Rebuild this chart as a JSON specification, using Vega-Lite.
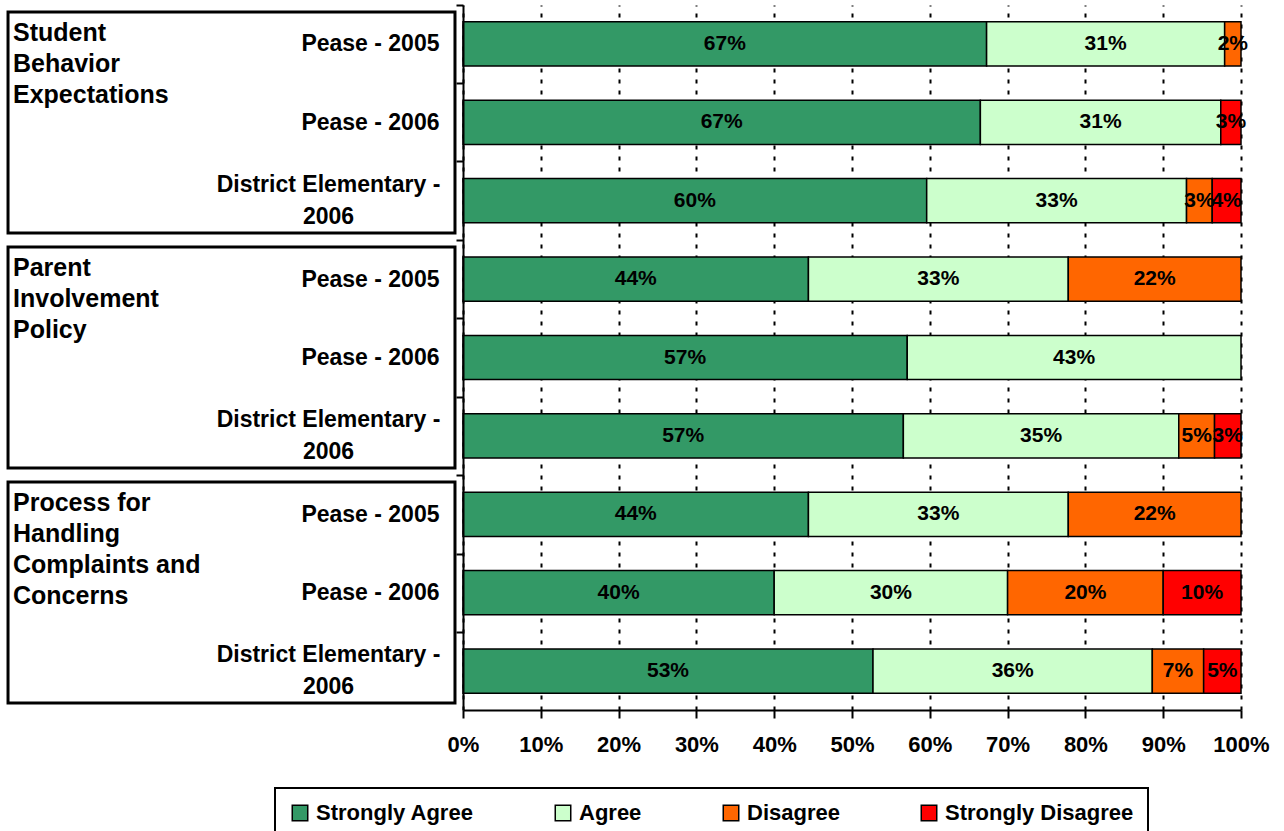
{
  "$schema": "https://vega.github.io/schema/vega-lite/v6.json",
  "width": 778,
  "height": 705,
  "autosize": {"type": "none"},
  "padding": {"left": 463, "top": 5, "right": 43, "bottom": 121},
  "background": "white",
  "config": {
    "font": "Liberation Sans",
    "view": {"stroke": null},
    "axis": {
      "domainColor": "black",
      "domainWidth": 2,
      "tickColor": "black",
      "tickWidth": 2,
      "labelColor": "black",
      "labelFontWeight": "bold",
      "labelFont": "Liberation Sans"
    },
    "legend": {
      "orient": "none",
      "legendX": -188,
      "legendY": 783,
      "direction": "horizontal",
      "padding": 14,
      "strokeColor": "black",
      "strokeWidth": 2,
      "columnPadding": 78,
      "symbolType": "square",
      "symbolSize": 240,
      "symbolStrokeColor": "black",
      "symbolStrokeWidth": 1.5,
      "labelFont": "Liberation Sans",
      "labelFontSize": 22,
      "labelFontWeight": "bold",
      "labelColor": "black",
      "labelOffset": 5,
      "labelLimit": 400
    }
  },
  "layer": [
    {
      "data": {
        "values": [
          {"group": "Student\nBehavior\nExpectations"},
          {"group": "Parent\nInvolvement\nPolicy"},
          {"group": "Process for\nHandling\nComplaints and\nConcerns"}
        ]
      },
      "layer": [
        {
          "mark": {"type": "rect", "fill": "white", "stroke": "black", "strokeWidth": 3},
          "encoding": {
            "y": {"field": "group", "type": "nominal", "sort": null, "scale": {"type": "band", "paddingInner": 0.06, "paddingOuter": 0.03}, "axis": null},
            "x": {"datum": -0.5848, "type": "quantitative", "scale": {"domain": [0, 1]}},
            "x2": {"datum": -0.0103}
          }
        },
        {
          "mark": {"type": "text", "align": "left", "baseline": "top", "lineBreak": "\n", "lineHeight": 31, "fontSize": 25, "fontWeight": "bold", "color": "black", "dy": 9},
          "encoding": {
            "y": {"field": "group", "type": "nominal", "sort": null, "bandPosition": 0, "scale": {"type": "band", "paddingInner": 0.06, "paddingOuter": 0.03}, "axis": null},
            "x": {"datum": -0.5784, "type": "quantitative", "scale": {"domain": [0, 1]}},
            "text": {"field": "group"}
          }
        }
      ]
    },
    {
      "data": {
        "values": [
          {"row": "1|Pease - 2005", "cat": "Strongly Agree", "v": 0.673},
          {"row": "1|Pease - 2005", "cat": "Agree", "v": 0.306},
          {"row": "1|Pease - 2005", "cat": "Disagree", "v": 0.021},
          {"row": "1|Pease - 2006", "cat": "Strongly Agree", "v": 0.665},
          {"row": "1|Pease - 2006", "cat": "Agree", "v": 0.309},
          {"row": "1|Pease - 2006", "cat": "Strongly Disagree", "v": 0.026},
          {"row": "1|District Elementary - 2006", "cat": "Strongly Agree", "v": 0.596},
          {"row": "1|District Elementary - 2006", "cat": "Agree", "v": 0.334},
          {"row": "1|District Elementary - 2006", "cat": "Disagree", "v": 0.033},
          {"row": "1|District Elementary - 2006", "cat": "Strongly Disagree", "v": 0.037},
          {"row": "2|Pease - 2005", "cat": "Strongly Agree", "v": 0.444},
          {"row": "2|Pease - 2005", "cat": "Agree", "v": 0.334},
          {"row": "2|Pease - 2005", "cat": "Disagree", "v": 0.222},
          {"row": "2|Pease - 2006", "cat": "Strongly Agree", "v": 0.571},
          {"row": "2|Pease - 2006", "cat": "Agree", "v": 0.429},
          {"row": "2|District Elementary - 2006", "cat": "Strongly Agree", "v": 0.566},
          {"row": "2|District Elementary - 2006", "cat": "Agree", "v": 0.354},
          {"row": "2|District Elementary - 2006", "cat": "Disagree", "v": 0.046},
          {"row": "2|District Elementary - 2006", "cat": "Strongly Disagree", "v": 0.034},
          {"row": "3|Pease - 2005", "cat": "Strongly Agree", "v": 0.444},
          {"row": "3|Pease - 2005", "cat": "Agree", "v": 0.334},
          {"row": "3|Pease - 2005", "cat": "Disagree", "v": 0.222},
          {"row": "3|Pease - 2006", "cat": "Strongly Agree", "v": 0.40},
          {"row": "3|Pease - 2006", "cat": "Agree", "v": 0.30},
          {"row": "3|Pease - 2006", "cat": "Disagree", "v": 0.20},
          {"row": "3|Pease - 2006", "cat": "Strongly Disagree", "v": 0.10},
          {"row": "3|District Elementary - 2006", "cat": "Strongly Agree", "v": 0.527},
          {"row": "3|District Elementary - 2006", "cat": "Agree", "v": 0.359},
          {"row": "3|District Elementary - 2006", "cat": "Disagree", "v": 0.066},
          {"row": "3|District Elementary - 2006", "cat": "Strongly Disagree", "v": 0.048}
        ]
      },
      "transform": [
        {"calculate": "indexof(['Strongly Agree','Agree','Disagree','Strongly Disagree'], datum.cat)", "as": "ord"},
        {"stack": "v", "groupby": ["row"], "sort": [{"field": "ord", "order": "ascending"}], "offset": "normalize", "as": ["x0", "x1"]},
        {"calculate": "(datum.x0 + datum.x1) / 2", "as": "xm"}
      ],
      "layer": [
        {
          "mark": {"type": "bar", "stroke": "black", "strokeWidth": 1.5},
          "encoding": {
            "y": {
              "field": "row", "type": "nominal", "sort": null,
              "scale": {"type": "band", "paddingInner": 0.436, "paddingOuter": 0.214},
              "axis": {
                "title": null,
                "zindex": 1,
                "labelFontSize": 23,
                "labelLimit": 400,
                "labelLineHeight": 32,
                "tickSize": 7,
                "tickOffset": -39.2,
                "labelExpr": "split(datum.value, '|')[1] == 'District Elementary - 2006' ? ['District Elementary -', '2006'] : split(datum.value, '|')[1]",
                "labelAlign": {"condition": {"test": "indexof(datum.value, 'District') >= 0", "value": "center"}, "value": "right"},
                "labelPadding": {"condition": {"test": "indexof(datum.value, 'District') >= 0", "value": 128}, "value": 17},
                "labelOffset": {"condition": {"test": "indexof(datum.value, 'District') >= 0", "value": 23}, "value": 39.2}
              }
            },
            "x": {
              "field": "x0", "type": "quantitative",
              "scale": {"domain": [0, 1]},
              "axis": {
                "title": null,
                "orient": "bottom",
                "format": "%",
                "values": [0, 0.1, 0.2, 0.3, 0.4, 0.5, 0.6, 0.7, 0.8, 0.9, 1],
                "labelFontSize": 22,
                "tickSize": 8,
                "labelPadding": 16,
                "labelFlush": false,
                "labelOverlap": false,
                "grid": true,
                "gridColor": "black",
                "gridDash": [4, 7],
                "gridWidth": 2
              }
            },
            "x2": {"field": "x1"},
            "color": {
              "field": "cat", "type": "nominal",
              "scale": {
                "domain": ["Strongly Agree", "Agree", "Disagree", "Strongly Disagree"],
                "range": ["#339966", "#CCFFCC", "#FF6600", "#FF0000"]
              },
              "legend": {"title": null}
            }
          }
        },
        {
          "mark": {"type": "text", "fontSize": 21, "fontWeight": "bold", "color": "black", "align": "center", "baseline": "middle"},
          "encoding": {
            "y": {"field": "row", "type": "nominal", "sort": null, "scale": {"type": "band", "paddingInner": 0.436, "paddingOuter": 0.214}},
            "x": {"field": "xm", "type": "quantitative", "scale": {"domain": [0, 1]}},
            "text": {"field": "v", "type": "quantitative", "format": ".0%"}
          }
        }
      ]
    }
  ],
  "resolve": {"scale": {"y": "independent"}}
}
